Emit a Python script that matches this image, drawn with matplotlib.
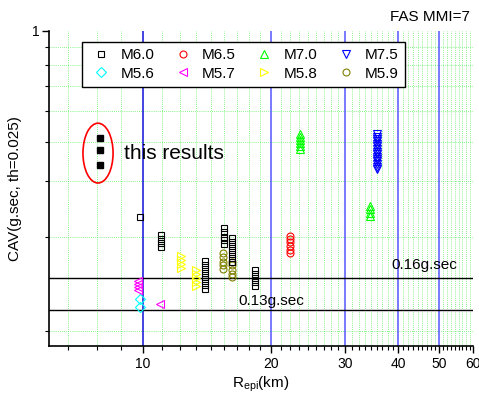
import matplotlib
matplotlib.use('Agg')
import matplotlib.pyplot as plt
from matplotlib.patches import Ellipse
from matplotlib.ticker import FixedLocator, NullFormatter, FixedFormatter

plt.rcParams['font.family'] = ['Liberation Sans', 'DejaVu Sans']
plt.rcParams['mathtext.fontset'] = 'custom'
plt.rcParams['mathtext.rm'] = 'Liberation Sans'
plt.rcParams['mathtext.it'] = 'Liberation Sans:italic'

# ---------------- data ----------------
m60_x = [9.82, 11.0, 11.0, 11.0, 11.0,
         14.0, 14.0, 14.0, 14.0, 14.0, 14.0, 14.0, 14.0,
         15.5, 15.5, 15.5, 15.5, 15.5,
         16.2, 16.2, 16.2, 16.2, 16.2, 16.2, 16.2,
         18.4, 18.4, 18.4, 18.4, 18.4]
m60_y = [0.256, 0.225, 0.218, 0.212, 0.206,
         0.186, 0.181, 0.175, 0.170, 0.165, 0.161, 0.156, 0.151,
         0.236, 0.229, 0.222, 0.216, 0.210,
         0.220, 0.213, 0.207, 0.201, 0.195, 0.190, 0.185,
         0.174, 0.169, 0.164, 0.159, 0.155]
m65_x = [22.2, 22.2, 22.2, 22.2, 22.2, 22.2]
m65_y = [0.223, 0.218, 0.213, 0.207, 0.202, 0.197]
m70_x = [23.4, 23.4, 23.4, 23.4, 23.4, 23.4, 34.3, 34.3, 34.3, 34.3]
m70_y = [0.471, 0.461, 0.450, 0.441, 0.431, 0.422, 0.278, 0.271, 0.264, 0.258]
m75_x = [35.6] * 15
m75_y = [0.471, 0.462, 0.454, 0.446, 0.437, 0.430, 0.422, 0.414, 0.407,
         0.399, 0.392, 0.385, 0.378, 0.371, 0.364]
m56_x = [9.82, 9.82]
m56_y = [0.141, 0.133]
m57_x = [9.75, 9.75, 9.75, 9.75, 10.95]
m57_y = [0.161, 0.157, 0.154, 0.150, 0.136]
m58_x = [12.3, 12.3, 12.3, 12.3, 13.3, 13.3, 13.3, 13.3, 13.3]
m58_y = [0.193, 0.187, 0.182, 0.177, 0.174, 0.169, 0.164, 0.159, 0.155]
m59_x = [15.4, 15.4, 15.4, 15.4, 15.4, 16.2, 16.2, 16.2, 16.2, 16.2]
m59_y = [0.197, 0.191, 0.185, 0.180, 0.175, 0.185, 0.180, 0.174, 0.169, 0.165]

this_x = [7.9, 7.9, 7.9]
this_y = [0.457, 0.419, 0.375]

thresholds = [0.164, 0.13]
threshold_labels = ['0.16g.sec', '0.13g.sec']

x_major = [10, 20, 30, 40, 50, 60]
x_major_labels = ['10', '20', '30', '40', '50', '60']

# ---------------- figure ----------------
fig = plt.figure(figsize=(4.79, 3.96), dpi=100)
ax = fig.add_axes([49/479, 1-345.7/396, 424/479, 314.7/396])
ax.set_xscale('log')
ax.set_yscale('log')
ax.set_xlim(6, 60)
ax.set_ylim(0.1, 1)

x_minor = [10/9*k for k in range(6, 54) if k % 9 != 0]
y_minor = [k/9 for k in range(1, 9)]
ax.xaxis.set_major_locator(FixedLocator(x_major))
ax.xaxis.set_major_formatter(FixedFormatter(x_major_labels))
ax.xaxis.set_minor_locator(FixedLocator(x_minor))
ax.xaxis.set_minor_formatter(NullFormatter())
ax.yaxis.set_major_locator(FixedLocator([1]))
ax.yaxis.set_major_formatter(FixedFormatter(['1']))
ax.yaxis.set_minor_locator(FixedLocator(y_minor))
ax.yaxis.set_minor_formatter(NullFormatter())

# grids
for xv in x_minor:
    ax.axvline(xv, color='#66ee66', ls=(0, (1, 1.5)), lw=0.6, zorder=0.5)
for yv in y_minor:
    ax.axhline(yv, color='#66ee66', ls=(0, (1, 1.5)), lw=0.6, zorder=0.5)
for xv in x_major[:-1]:
    ax.axvline(xv, color='#1010d8' if xv == 10 else '#5555ff', lw=1.1, zorder=0.8)

for t in thresholds:
    ax.axhline(t, color='black', lw=1.0, zorder=1)

ms = 5
mew = 0.8
ax.plot(m60_x, m60_y, 's', mfc='none', mec='black', ms=ms, mew=mew, label='M6.0', zorder=3)
ax.plot(m56_x, m56_y, 'D', mfc='none', mec='#00ffff', ms=ms, mew=mew, label='M5.6', zorder=3)
ax.plot(m65_x, m65_y, 'o', mfc='none', mec='#ff0000', ms=ms, mew=mew, label='M6.5', zorder=3)
ax.plot(m57_x, m57_y, '<', mfc='none', mec='#ff00ff', ms=ms+1, mew=mew, label='M5.7', zorder=3)
ax.plot(m70_x, m70_y, '^', mfc='none', mec='#00ff00', ms=ms+1, mew=mew, label='M7.0', zorder=3)
ax.plot(m58_x, m58_y, '>', mfc='none', mec='#ffff00', ms=ms+1, mew=mew, label='M5.8', zorder=3)
ax.plot(m75_x, m75_y, 'v', mfc='none', mec='#0000ff', ms=ms+1, mew=mew, label='M7.5', zorder=3)
ax.plot(m59_x, m59_y, 'o', mfc='none', mec='#808000', ms=ms, mew=mew, label='M5.9', zorder=2.9)

ax.plot(this_x, this_y, 's', color='black', ms=5, zorder=3)
ax.add_patch(Ellipse((0.1156, 0.612), 0.071, 0.19, transform=ax.transAxes,
                     fill=False, ec='red', lw=1.2, zorder=3))
ax.text(0.177, 0.612, 'this results', transform=ax.transAxes, fontsize=15,
        va='center', ha='left')

ax.text(0.808, 0.256, threshold_labels[0], transform=ax.transAxes, fontsize=11,
        va='center', ha='left')
ax.text(0.447, 0.143, threshold_labels[1], transform=ax.transAxes, fontsize=11,
        va='center', ha='left')

leg = ax.legend(ncol=4, loc='upper left', bbox_to_anchor=(0.078, 0.835, 0.762, 0.13),
                mode='expand', borderaxespad=0, fontsize=11, handlelength=1.7,
                handletextpad=0.4, columnspacing=1.2, frameon=True, fancybox=False,
                edgecolor='black', framealpha=1, labelspacing=0.3, borderpad=0.4)
leg.get_frame().set_linewidth(1.0)
leg.set_zorder(5)

for s in ['top', 'right']:
    ax.spines[s].set_visible(False)
ax.spines['left'].set_linewidth(1.2)
ax.spines['bottom'].set_linewidth(1.2)
ax.tick_params(axis='x', which='major', direction='out', length=5, width=1.0, labelsize=10, pad=3)
ax.tick_params(axis='x', which='minor', direction='out', length=3, width=0.8)
ax.tick_params(axis='y', which='major', direction='out', length=5, width=1.0, labelsize=10, pad=2)
ax.tick_params(axis='y', which='minor', direction='out', length=3, width=0.8)

ax.set_xlabel(r'R$_{\rm epi}$(km)', fontsize=11, labelpad=3)
ax.set_ylabel('CAV(g.sec, th=0.025)', fontsize=11, labelpad=7)
fig.text(0.981, 0.957, 'FAS MMI=7', ha='right', va='center', fontsize=11)

fig.savefig('out.png', dpi=100)
